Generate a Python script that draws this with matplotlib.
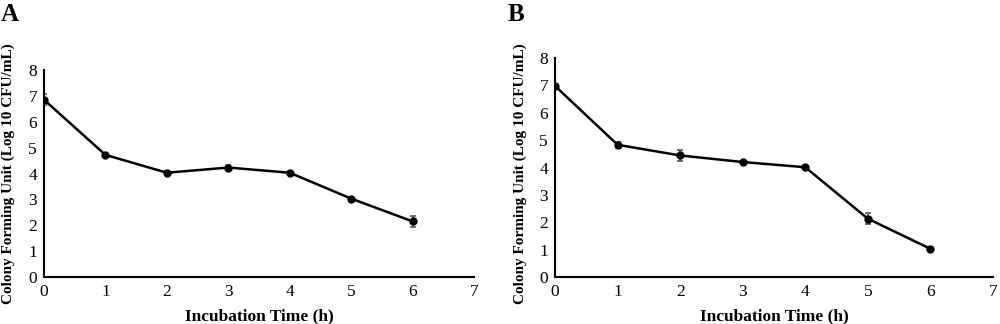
import matplotlib.pyplot as plt

# Incubation time (h)
hours = [0, 1, 2, 3, 4, 5, 6]

# Panel A: log10 CFU/mL and error
cfu_a = [6.85, 4.72, 4.03, 4.23, 4.03, 3.03, 2.15]
err_a = [0.22, 0.06, 0.05, 0.08, 0.05, 0.05, 0.2]

# Panel B
cfu_b = [6.98, 4.83, 4.44, 4.2, 4.01, 2.13, 1.03]
err_b = [0.05, 0.1, 0.2, 0.05, 0.04, 0.2, 0.03]

plt.rcParams['font.family'] = 'Liberation Serif'

fig = plt.figure(figsize=(10, 3.24), dpi=100)
ax_a = fig.add_axes([0.044, 0.145, 0.430, 0.639])
ax_b = fig.add_axes([0.555, 0.145, 0.438, 0.676])


def draw_panel(ax, y, err, letter, letter_x, xlab_y, ylab_x):
    ax.errorbar(hours, y, yerr=err, color='black', marker='o', markersize=5,
                linewidth=1.8, ecolor='#555555', elinewidth=1.2, capsize=2.5,
                capthick=1.2)
    ax.set_xlim(0, 7)
    ax.set_ylim(0, 8)
    ax.set_xticks(range(0, 8))
    ax.set_yticks(range(0, 9))
    ax.tick_params(length=0, labelsize=12.5, pad=5)
    for side in ['top', 'right']:
        ax.spines[side].set_visible(False)
    for side in ['left', 'bottom']:
        ax.spines[side].set_linewidth(1.5)
    ax.set_xlabel('Incubation Time (h)', fontsize=12.5, fontweight='bold')
    ax.set_ylabel('Colony Forming Unit (Log 10 CFU/mL)', fontsize=11,
                  fontweight='bold')
    ax.xaxis.set_label_coords(0.5, xlab_y)
    ax.yaxis.set_label_coords(ylab_x, 0.5)
    fig.text(letter_x, 0.955, letter, fontsize=18, fontweight='bold', va='center')


draw_panel(ax_a, cfu_a, err_a, 'A', 0.001, -0.15, -0.067)
draw_panel(ax_b, cfu_b, err_b, 'B', 0.508, -0.142, -0.064)
ax_b.yaxis.set_label_coords(-0.064, 0.47)

fig.savefig('out.png', dpi=100)
